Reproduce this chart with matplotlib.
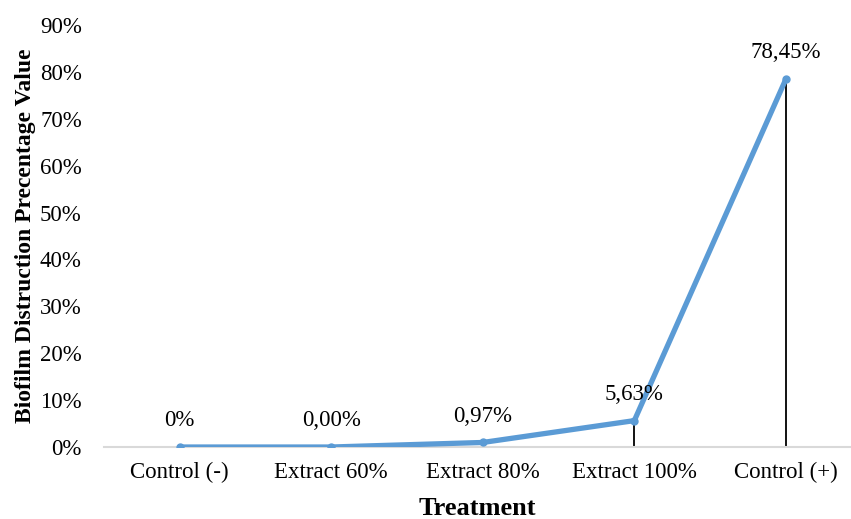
import matplotlib.pyplot as plt
from matplotlib.ticker import FuncFormatter

plt.rcParams["font.family"] = ["Liberation Serif", "DejaVu Serif"]

# données
treatments = ["Control (-)", "Extract 60%", "Extract 80%", "Extract 100%", "Control (+)"]
values = [0.0, 0.0, 0.0097, 0.0563, 0.7845]
value_labels = ["0%", "0,00%", "0,97%", "5,63%", "78,45%"]

LINE_COLOR = "#5B9BD5"
TICK_SIZE = 16.5

fig = plt.figure(figsize=(8.51, 5.19), dpi=100)
ax = fig.add_axes([0.1222, 0.1387, 0.8778, 0.8131])

x = list(range(len(treatments)))

# lignes verticales jusqu'à l'axe
ax.vlines(x, 0, values, color="black", linewidth=1.3, zorder=2)

ax.plot(x, values, color=LINE_COLOR, linewidth=3.8, marker="o",
        markersize=5, solid_capstyle="round", zorder=3)

for xi, yi, lab in zip(x, values, value_labels):
    ax.annotate(lab, (xi, yi), xytext=(0, 19), textcoords="offset points",
                ha="center", va="center", fontsize=TICK_SIZE)

ax.set_xlim(-0.5, 4.43)
ax.set_ylim(0, 0.9)
ax.set_yticks([i / 10 for i in range(10)])
ax.yaxis.set_major_formatter(FuncFormatter(lambda v, _: f"{round(v * 100)}%"))
ax.set_xticks(x)
ax.set_xticklabels(treatments)

for side in ["top", "right", "left"]:
    ax.spines[side].set_visible(False)
ax.spines["bottom"].set_color("#D9D9D9")
ax.spines["bottom"].set_linewidth(1.5)

ax.tick_params(axis="both", length=0, labelsize=TICK_SIZE)
ax.tick_params(axis="y", pad=16)
ax.tick_params(axis="x", pad=11)

ax.set_xlabel("Treatment", fontsize=19, fontweight="bold", labelpad=10)
ax.set_ylabel("Biofilm Distruction Precentage Value", fontsize=17,
              fontweight="bold", labelpad=3)

fig.savefig("out.png", dpi=100)
